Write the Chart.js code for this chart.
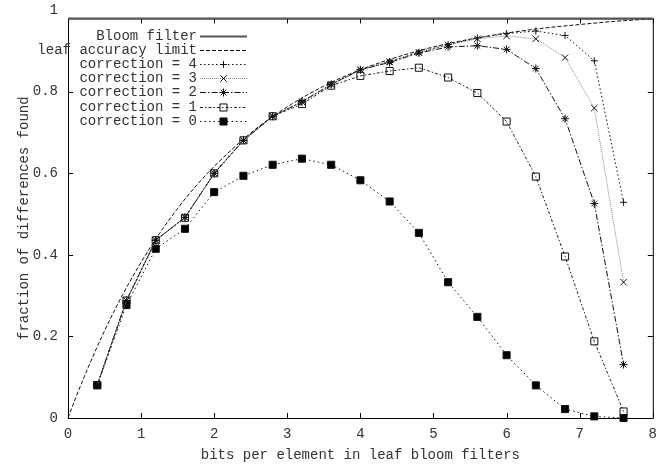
<!DOCTYPE html>
<html>
<head>
<meta charset="utf-8">
<script src="https://cdn.jsdelivr.net/npm/chart.js@4"></script>
<style>
  html, body { margin: 0; padding: 0; background: #fff; }
</style>
</head>
<body>
<canvas id="chart" width="665" height="466"></canvas>
<script>
// bits per element (x) for the measured runs
const bits = [0.4, 0.8, 1.2, 1.6, 2.0, 2.4, 2.8, 3.2, 3.6, 4.0, 4.4, 4.8, 5.2, 5.6, 6.0, 6.4, 6.8, 7.2, 7.6];

// fraction of differences found, one list per correction level
const corr0 = [0.080, 0.277, 0.415, 0.464, 0.554, 0.594, 0.621, 0.636, 0.621, 0.583, 0.531, 0.454, 0.333, 0.248, 0.154, 0.080, 0.022, 0.004, 0.000];
const corr1 = [0.081, 0.288, 0.436, 0.491, 0.600, 0.681, 0.740, 0.770, 0.815, 0.839, 0.851, 0.859, 0.835, 0.797, 0.727, 0.592, 0.396, 0.188, 0.016];
const corr2 = [0.081, 0.288, 0.436, 0.492, 0.600, 0.681, 0.740, 0.776, 0.818, 0.854, 0.872, 0.895, 0.910, 0.913, 0.904, 0.857, 0.734, 0.526, 0.131];
const corr3 = [0.081, 0.288, 0.436, 0.492, 0.600, 0.681, 0.740, 0.775, 0.818, 0.854, 0.874, 0.897, 0.915, 0.930, 0.937, 0.930, 0.884, 0.760, 0.333];
const corr4 = [0.081, 0.288, 0.436, 0.492, 0.600, 0.681, 0.740, 0.775, 0.818, 0.854, 0.874, 0.897, 0.916, 0.932, 0.943, 0.949, 0.938, 0.876, 0.529];

// leaf accuracy limit curve
const limitBits = [0, 0.1, 0.25, 0.5, 0.75, 1, 1.25, 1.5, 1.75, 2, 2.5, 3, 3.5, 4, 4.5, 5, 5.5, 6, 6.5, 7, 7.5, 8];
const limitVals = [0, 0.047, 0.113, 0.214, 0.303, 0.382, 0.452, 0.514, 0.569, 0.617, 0.699, 0.763, 0.814, 0.854, 0.885, 0.910, 0.929, 0.944, 0.956, 0.965, 0.973, 0.979];

// Bloom filter reference line
const bloomBits = [0, 8];
const bloomVals = [0.98, 0.98];

const xTicks = [0, 1, 2, 3, 4, 5, 6, 7, 8];
const yTicks = [0, 0.2, 0.4, 0.6, 0.8, 1];
const yTop = 0.98;

const FONT = "'Liberation Mono', 'Courier New', monospace";
Chart.defaults.font.family = FONT;
Chart.defaults.font.size = 14;
Chart.defaults.color = '#333';

function pts(xs, ys) {
  return xs.map((x, i) => ({ x: x, y: ys[i] }));
}

// gnuplot style border with inward ticks on all four sides
const framePlugin = {
  id: 'frame',
  beforeDatasetsDraw(chart) {
    const { ctx, chartArea: a, scales: { x, y } } = chart;
    const t = 5;
    ctx.save();
    ctx.strokeStyle = '#000';
    ctx.lineWidth = 1;
    ctx.beginPath();
    ctx.rect(a.left + 0.5, a.top + 0.5, a.right - a.left, a.bottom - a.top);
    xTicks.forEach(v => {
      const px = Math.round(x.getPixelForValue(v)) + 0.5;
      ctx.moveTo(px, a.bottom); ctx.lineTo(px, a.bottom - t);
      ctx.moveTo(px, a.top); ctx.lineTo(px, a.top + t);
    });
    yTicks.forEach(v => {
      if (v > yTop) return;
      const py = Math.round(y.getPixelForValue(v)) + 0.5;
      ctx.moveTo(a.left, py); ctx.lineTo(a.left + t, py);
      ctx.moveTo(a.right, py); ctx.lineTo(a.right - t, py);
    });
    ctx.stroke();
    ctx.restore();
  }
};

// key in the top left: label right-aligned, then the line sample
const keyPlugin = {
  id: 'key',
  afterDraw(chart) {
    const ctx = chart.ctx;
    ctx.save();
    ctx.font = '14px ' + FONT;
    ctx.textAlign = 'right';
    ctx.textBaseline = 'middle';
    chart.data.datasets.forEach((ds, i) => {
      const yy = Math.round(36 + i * 14.1) + 0.5;
      ctx.fillStyle = '#333';
      ctx.fillText(ds.label, 197, yy);
      ctx.strokeStyle = ds.borderColor;
      ctx.lineWidth = ds.borderWidth;
      ctx.setLineDash(ds.borderDash || []);
      ctx.beginPath();
      ctx.moveTo(200, yy);
      ctx.lineTo(247, yy);
      ctx.stroke();
      ctx.setLineDash([]);
      if (ds.pointRadius > 0) {
        ctx.fillStyle = ds.pointBackgroundColor;
        ctx.strokeStyle = ds.pointBorderColor;
        ctx.lineWidth = ds.pointBorderWidth;
        Chart.helpers.drawPoint(ctx, {
          pointStyle: ds.pointStyle,
          radius: ds.pointRadius,
          borderWidth: ds.pointBorderWidth,
          rotation: 0
        }, 223.5, yy);
      }
    });
    ctx.restore();
  }
};

function series(label, xs, ys, dash, color, style, radius, fill) {
  return {
    label: label,
    data: pts(xs, ys),
    borderColor: color,
    borderWidth: 1,
    borderDash: dash,
    tension: 0,
    pointStyle: style,
    pointRadius: radius,
    pointBorderColor: '#111',
    pointBackgroundColor: fill,
    pointBorderWidth: 1,
    clip: false
  };
}

new Chart(document.getElementById('chart'), {
  type: 'line',
  data: {
    datasets: [
      {
        label: 'Bloom filter',
        data: pts(bloomBits, bloomVals),
        borderColor: '#555',
        borderWidth: 2,
        pointRadius: 0,
        clip: false
      },
      {
        label: 'leaf accuracy limit',
        data: pts(limitBits, limitVals),
        borderColor: '#111',
        borderWidth: 1,
        borderDash: [4, 2],
        cubicInterpolationMode: 'monotone',
        pointRadius: 0,
        clip: false
      },
      series('correction = 4', bits, corr4, [1.5, 2.5], '#111', 'cross', 3.5, '#111'),
      series('correction = 3', bits, corr3, [1, 1], '#888', 'crossRot', 4.5, '#111'),
      series('correction = 2', bits, corr2, [6, 2, 1.5, 2], '#111', 'star', 4, '#111'),
      series('correction = 1', bits, corr1, [3, 2, 1.5, 2], '#222', 'rect', 5, 'rgba(255,255,255,0)'),
      series('correction = 0', bits, corr0, [1.5, 3], '#111', 'rect', 5, '#000')
    ]
  },
  options: {
    responsive: false,
    animation: false,
    devicePixelRatio: 1,
    events: [],
    layout: { padding: { top: 15, right: 11, left: 0, bottom: 0 } },
    plugins: { legend: { display: false }, tooltip: { enabled: false } },
    scales: {
      x: {
        type: 'linear',
        min: 0,
        max: 8,
        afterBuildTicks: axis => { axis.ticks = xTicks.map(v => ({ value: v })); },
        afterFit: axis => { axis.height = 48; },
        grid: { display: false, drawTicks: false },
        border: { display: false },
        ticks: { padding: 8, autoSkip: false, maxRotation: 0, callback: v => String(v) },
        title: { display: true, text: 'bits per element in leaf bloom filters', padding: { top: 4, bottom: 2 } }
      },
      y: {
        type: 'linear',
        min: 0,
        max: yTop,
        afterBuildTicks: axis => { axis.ticks = yTicks.map(v => ({ value: v })); },
        afterFit: axis => { axis.width = 68; },
        grid: { display: false, drawTicks: false },
        border: { display: false },
        ticks: { padding: 10, autoSkip: false, callback: v => String(+v.toFixed(1)) },
        title: { display: true, text: 'fraction of differences found', padding: { top: 16, bottom: 0 } }
      }
    }
  },
  plugins: [framePlugin, keyPlugin]
});
</script>
</body>
</html>
